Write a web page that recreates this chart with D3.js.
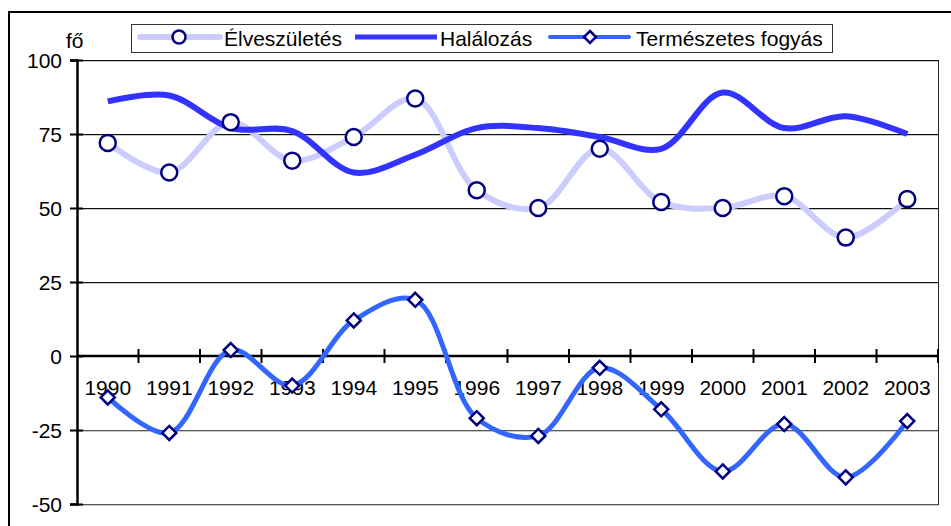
<!DOCTYPE html>
<html>
<head>
<meta charset="utf-8">
<script src="https://cdn.jsdelivr.net/npm/d3@7"></script>
<style>
body{margin:0;background:#fff;}
svg{display:block;font-family:"Liberation Sans",Arial,sans-serif;}
</style>
</head>
<body>
<svg id="chart" width="951" height="526"></svg>
<script>
const years = ["1990","1991","1992","1993","1994","1995","1996","1997","1998","1999","2000","2001","2002","2003"];
const elveszuletes = [72,62,79,66,74,87,56,50,70,52,50,54,40,53];
const halalozas = [86,88,77,76,62,68,77,77,74,70,89,77,81,75];
const fogyas = [-14,-26,2,-10,12,19,-21,-27,-4,-18,-39,-23,-41,-22];
const yTicks = [100,75,50,25,0,-25,-50];
const seriesNames = ["Élveszületés","Halálozás","Természetes fogyás"];

const FONT = "Liberation Sans, Arial, sans-serif";
const FS = 21;
const svg = d3.select("#chart");
const L=77, R=938, T=60, B=504;

// outer border
svg.append("rect").attr("x",9).attr("y",12).attr("width",1000).attr("height",600)
  .attr("fill","none").attr("stroke","#000").attr("stroke-width",2);

const x = d3.scaleBand().domain(years).range([L,R]).padding(0);
const y = d3.scaleLinear().domain([-50,100]).range([B,T]);

// gridlines
svg.append("g").selectAll("line").data(yTicks.filter(d=>d!==0)).join("line")
  .attr("x1",L).attr("x2",R).attr("y1",d=>Math.round(y(d))+1.5).attr("y2",d=>Math.round(y(d))+1.5)
  .attr("stroke","#c8c8c8").attr("stroke-width",1);
svg.append("g").selectAll("line").data(yTicks.filter(d=>d!==0)).join("line")
  .attr("x1",L).attr("x2",R).attr("y1",d=>Math.round(y(d))+0.5).attr("y2",d=>Math.round(y(d))+0.5)
  .attr("stroke",d=>d<0?"#555":"#111").attr("stroke-width",1);
// right border
svg.append("line").attr("x1",R+0.5).attr("x2",R+0.5).attr("y1",T).attr("y2",B+1)
  .attr("stroke","#222").attr("stroke-width",1);

// y axis
const yAxis = d3.axisLeft(y).tickValues(yTicks).tickSize(7).tickPadding(8).tickFormat(d=>String(d));
const gy = svg.append("g").attr("transform",`translate(${L},0)`).call(yAxis);
gy.attr("font-family",FONT).attr("font-size",FS);
gy.select(".domain").attr("stroke","#000").attr("stroke-width",2.5);
gy.selectAll(".tick line").attr("stroke","#000").attr("stroke-width",2).attr("x1",6);
gy.selectAll(".tick text").attr("font-size",FS).attr("fill","#000").attr("dy",null).attr("y",7.5)
  .attr("x",-15).attr("font-family",FONT);

// x axis at zero
const y0 = y(0);
svg.append("line").attr("x1",L).attr("x2",R).attr("y1",y0).attr("y2",y0)
  .attr("stroke","#000").attr("stroke-width",2.5);
svg.append("g").selectAll("line").data(years).join("line")
  .attr("x1",d=>x(d)+x.bandwidth()).attr("x2",d=>x(d)+x.bandwidth())
  .attr("y1",y0-7).attr("y2",y0+7).attr("stroke","#000").attr("stroke-width",2);
svg.append("g").selectAll("text").data(years).join("text")
  .attr("x",d=>x(d)+x.bandwidth()/2).attr("y",y0+39)
  .attr("text-anchor","middle").attr("font-size",FS).attr("fill","#000").text(d=>d);

// unit label
svg.append("text").attr("x",66).attr("y",48).attr("font-size",FS).attr("fill","#000").text("fő");

const cx = d=>x(d)+x.bandwidth()/2;
const curve = d3.curveCatmullRom.alpha(0.5);
const lineGen = vals => d3.line().x((d,i)=>cx(years[i])).y(d=>y(d)).curve(curve)(vals);

svg.append("path").attr("d",lineGen(elveszuletes)).attr("fill","none")
  .attr("stroke","#ccccff").attr("stroke-width",6).attr("stroke-linecap","round");
svg.append("path").attr("d",lineGen(halalozas)).attr("fill","none")
  .attr("stroke","#3333ff").attr("stroke-width",6);
svg.append("path").attr("d",lineGen(fogyas)).attr("fill","none")
  .attr("stroke","#3366ff").attr("stroke-width",5).attr("stroke-linecap","round");

svg.append("g").selectAll("circle").data(elveszuletes).join("circle")
  .attr("cx",(d,i)=>cx(years[i])).attr("cy",d=>y(d)).attr("r",8)
  .attr("fill","#fff").attr("stroke","#000080").attr("stroke-width",2.5);

const diamond = (px,py,s)=>`M${px},${py-s}L${px+s},${py}L${px},${py+s}L${px-s},${py}Z`;
svg.append("g").selectAll("path").data(fogyas).join("path")
  .attr("d",(d,i)=>diamond(cx(years[i]),y(d),7))
  .attr("fill","#fff").attr("stroke","#000080").attr("stroke-width",2.5);

// legend
const lg = svg.append("g");
lg.append("rect").attr("x",131.5).attr("y",24.5).attr("width",701).attr("height",28)
  .attr("fill","#fff").attr("stroke","#333").attr("stroke-width",1);
lg.append("line").attr("x1",140).attr("x2",220).attr("y1",37).attr("y2",37)
  .attr("stroke","#ccccff").attr("stroke-width",6).attr("stroke-linecap","round");
lg.append("circle").attr("cx",179).attr("cy",37).attr("r",6.5)
  .attr("fill","#fff").attr("stroke","#000080").attr("stroke-width",2.5);
lg.append("text").attr("x",224).attr("y",45.5).attr("font-size",FS).attr("fill","#000").text(seriesNames[0]);
lg.append("line").attr("x1",355).attr("x2",437).attr("y1",37).attr("y2",37)
  .attr("stroke","#3333ff").attr("stroke-width",5);
lg.append("text").attr("x",440).attr("y",45.5).attr("font-size",FS).attr("fill","#000").text(seriesNames[1]);
lg.append("line").attr("x1",550).attr("x2",629).attr("y1",37).attr("y2",37)
  .attr("stroke","#3366ff").attr("stroke-width",4).attr("stroke-linecap","round");
lg.append("path").attr("d",diamond(590,37,6))
  .attr("fill","#fff").attr("stroke","#000080").attr("stroke-width",2.5);
lg.append("text").attr("x",636).attr("y",45.5).attr("font-size",FS).attr("fill","#000").text(seriesNames[2]);
</script>
</body>
</html>
